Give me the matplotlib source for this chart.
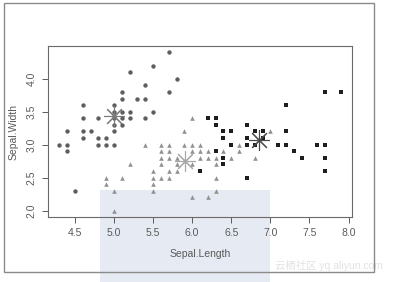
import matplotlib
matplotlib.use("Agg")
import matplotlib.pyplot as plt
from matplotlib.patches import Rectangle

plt.rcParams["font.family"] = ["Liberation Sans", "Noto Sans CJK SC", "DejaVu Sans"]

# cluster 1 (circles)
c1_x = [4.3, 4.4, 4.4, 4.4, 4.5, 4.6, 4.6, 4.6, 4.6, 4.7, 4.8, 4.8, 4.8, 4.9, 4.9,
        5.0, 5.0, 5.0, 5.0, 5.0, 5.0, 5.1, 5.1, 5.1, 5.1, 5.1, 5.2, 5.2, 5.2, 5.3,
        5.4, 5.4, 5.4, 5.5, 5.5, 5.7, 5.7, 5.8]
c1_y = [3.0, 3.2, 3.0, 2.9, 2.3, 3.6, 3.4, 3.2, 3.1, 3.2, 3.4, 3.1, 3.0, 3.1, 3.0,
        3.6, 3.5, 3.4, 3.3, 3.2, 3.0, 3.8, 3.7, 3.5, 3.4, 3.3, 4.1, 3.5, 3.4, 3.7,
        3.9, 3.7, 3.4, 4.2, 3.5, 4.4, 3.8, 4.0]

# cluster 2 (triangles)
c2_x = [4.9, 4.9, 5.0, 5.0, 5.1, 5.2, 5.4, 5.5, 5.5, 5.5, 5.5,
        5.6, 5.6, 5.6, 5.6, 5.6, 5.7, 5.7, 5.7, 5.7, 5.7, 5.8, 5.8, 5.8,
        5.9, 5.9, 6.0, 6.0, 6.0, 6.0, 6.0, 6.1, 6.1, 6.1, 6.2, 6.2, 6.2,
        6.3, 6.3, 6.3, 6.3, 6.4, 6.5, 6.6, 6.6, 6.8, 7.0]
c2_y = [2.5, 2.4, 2.3, 2.0, 2.5, 2.7, 3.0, 2.6, 2.5, 2.4, 2.3,
        3.0, 2.9, 2.8, 2.7, 2.5, 3.0, 2.9, 2.8, 2.6, 2.5, 2.8, 2.7, 2.6,
        3.2, 3.0, 3.4, 3.0, 2.9, 2.7, 2.2, 3.0, 2.9, 2.8, 2.9, 2.8, 2.2,
        2.8, 2.7, 2.5, 2.3, 2.9, 2.8, 3.0, 2.9, 2.8, 3.2]

# cluster 3 (squares)
c3_x = [6.1, 6.2, 6.3, 6.3, 6.3, 6.4, 6.4, 6.4, 6.4, 6.5, 6.5, 6.7, 6.7, 6.7, 6.7,
        6.8, 6.8, 6.9, 6.9, 7.1, 7.2, 7.2, 7.2, 7.3, 7.4, 7.6, 7.7, 7.7, 7.7, 7.7, 7.9]
c3_y = [2.6, 3.4, 3.4, 3.3, 2.9, 3.2, 3.1, 2.8, 2.7, 3.2, 3.0, 3.3, 3.1, 3.0, 2.5,
        3.2, 3.0, 3.2, 3.1, 3.0, 3.6, 3.2, 3.0, 2.9, 2.8, 3.0, 3.8, 3.0, 2.8, 2.6, 3.8]

# cluster centers
center_x = [5.006, 5.902, 6.850]
center_y = [3.428, 2.748, 3.074]

col1 = "#5e5e5e"
col2 = "#919191"
col3 = "#1e1e1e"
center_cols = ["#7a7a7a", "#a8a8a8", "#4a4a4a"]
tick_col = "#5a5a5a"

fig = plt.figure(figsize=(3.95, 2.82), dpi=100)

# watermark block and outer frame
fig.patches.append(Rectangle((100 / 395, 0), 170 / 395, 92 / 282, transform=fig.transFigure,
                             facecolor="#e6eaf2", edgecolor="none", zorder=-1))
fig.patches.append(Rectangle((4 / 395, 10 / 282), 370 / 395, 269 / 282, transform=fig.transFigure,
                             facecolor="none", edgecolor="#8a8a8a", linewidth=1.0, zorder=5))

ax = fig.add_axes([48 / 395, 65 / 282, 304 / 395, 171 / 282])
ax.patch.set_alpha(0)

ax.scatter(c1_x, c1_y, marker="o", s=10, color=col1, linewidths=0, zorder=3)
ax.scatter(c2_x, c2_y, marker="^", s=11, color=col2, linewidths=0, zorder=3)
ax.scatter(c3_x, c3_y, marker="s", s=12, color=col3, linewidths=0, zorder=3)
for cx, cy, cc in zip(center_x, center_y, center_cols):
    ax.plot(cx, cy, marker=(8, 2, 0), markersize=15, color=cc, markeredgewidth=0.8,
            linestyle="none", zorder=4)

ax.set_xlim(4.156, 8.044)
ax.set_ylim(1.904, 4.496)
ax.set_xticks([4.5, 5.0, 5.5, 6.0, 6.5, 7.0, 7.5, 8.0])
ax.set_yticks([2.0, 2.5, 3.0, 3.5, 4.0])
ax.set_xticklabels(["4.5", "5.0", "5.5", "6.0", "6.5", "7.0", "7.5", "8.0"])
ax.set_yticklabels(["2.0", "2.5", "3.0", "3.5", "4.0"], rotation=90, va="center")
ax.tick_params(colors=tick_col, labelsize=7.5, length=4, width=0.7, pad=4)
for sp in ax.spines.values():
    sp.set_color("#6a6a6a")
    sp.set_linewidth(0.8)

ax.set_xlabel("Sepal.Length", fontsize=7.5, color=tick_col, labelpad=8)
ax.set_ylabel("Sepal.Width", fontsize=7.5, color=tick_col, labelpad=6)

fig.text(0.97, 0.058, "云栖社区 yq.aliyun.com", ha="right", va="center", fontsize=7.5,
         color="#e2e2e2")

fig.savefig("out.png", dpi=100)
